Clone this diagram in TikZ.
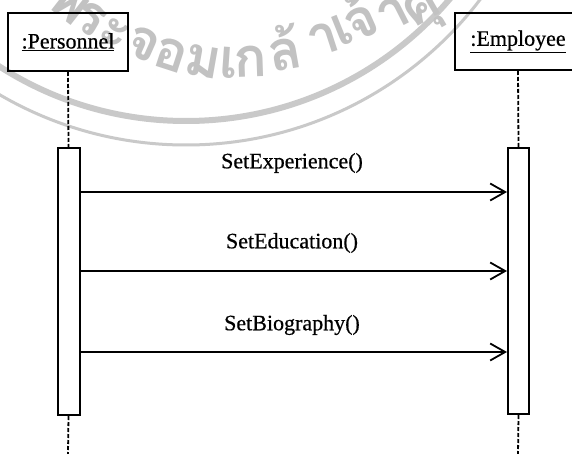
\documentclass[tikz,border=0pt]{standalone}
\usepackage{fontspec}
\setmainfont{Liberation Serif}
\newfontface\scanfont{Liberation Serif}[FakeBold=0.6]
\newfontfamily\thaifont[Script=Thai]{Loma}
\usetikzlibrary{arrows.meta}
\begin{document}
\begin{tikzpicture}[x=1pt,y=-1pt,
  wm/.style={text=black!24, font=\thaifont\bfseries\fontsize{55}{60}\selectfont, inner sep=0pt, anchor=base},
  wmline/.style={draw=black!21},
  obj/.style={draw, line width=2pt, inner sep=0pt, font=\scanfont\fontsize{22}{25}\selectfont},
  act/.style={draw, line width=2pt, fill=white, inner sep=0pt},
  lifeline/.style={line width=1.8pt, dash pattern=on 4pt off 2pt},
  msg/.style={line width=1.8pt, -{Straight Barb[length=15pt,width=17pt,line width=1.8pt]}},
  lbl/.style={inner sep=0pt, font=\scanfont\fontsize{22}{25}\selectfont}]
\useasboundingbox (0,0) rectangle (572,454);
\clip (0,0) rectangle (572,454);
\fill[white] (0,0) rectangle (572,454);
% watermark
\coordinate (wc) at (186,-225);
\draw[wmline, line width=6pt] (wc) circle (346pt);
\draw[wmline, line width=3pt] (wc) circle (370pt);
\node[wm, rotate=-38] (w1) at (60,17) {พ};
\node[wm, rotate=-30] (w2) at (95,39) {ระ};
\node[wm, rotate=-24] (w4) at (137,58) {จ};
\node[wm, rotate=-18] (w5) at (166,70) {อ};
\node[wm, rotate=-10] (w6) at (200,77) {ม};
\node[wm, rotate=-4] (w7) at (228,78) {เ};
\node[wm, rotate=2] (w8) at (251,77) {ก};
\node[wm, rotate=10] (w9) at (288,70) {ล้};
\node[wm, rotate=18] (w10) at (328,54) {า};
\node[wm, rotate=22] (w11) at (348,44) {เ};
\node[wm, rotate=24] (w12) at (368,37) {จ้};
\node[wm, rotate=27] (w13) at (400,27) {า};
\node[wm, rotate=30] (w14) at (428,20) {คุ};
% objects
\node[obj, minimum width=120pt, minimum height=58pt] (P) at (68,42) {\underline{:Personnel}};
\node[obj, minimum width=126pt, minimum height=57pt] (E) at (518,41.5) {\underline{:Employee}};
% activations
\node[act, minimum width=22pt, minimum height=267pt] (Pa) at (68.5,281.5) {};
\node[act, minimum width=21pt, minimum height=266pt] (Ea) at (518.5,281) {};
\coordinate (Pend) at (68,454);
\coordinate (Eend) at (518,454);
\draw[lifeline] (P.south) -- (Pa.north);
\draw[lifeline] (Pa.south) -- (Pend);
\draw[lifeline] (E.south) -- (Ea.north);
\draw[lifeline] (Ea.south) -- (Eend);
% messages
\coordinate (y1) at (0,192);
\coordinate (y2) at (0,271);
\coordinate (y3) at (0,352);
\draw[msg] (Pa.east |- y1) -- (Ea.west |- y1);
\draw[msg] (Pa.east |- y2) -- (Ea.west |- y2);
\draw[msg] (Pa.east |- y3) -- (Ea.west |- y3);
\node[lbl] (l1) at (292,163) {SetExperience()};
\node[lbl] (l2) at (292,243) {SetEducation()};
\node[lbl] (l3) at (292,325) {SetBiography()};
\end{tikzpicture}
\end{document}
